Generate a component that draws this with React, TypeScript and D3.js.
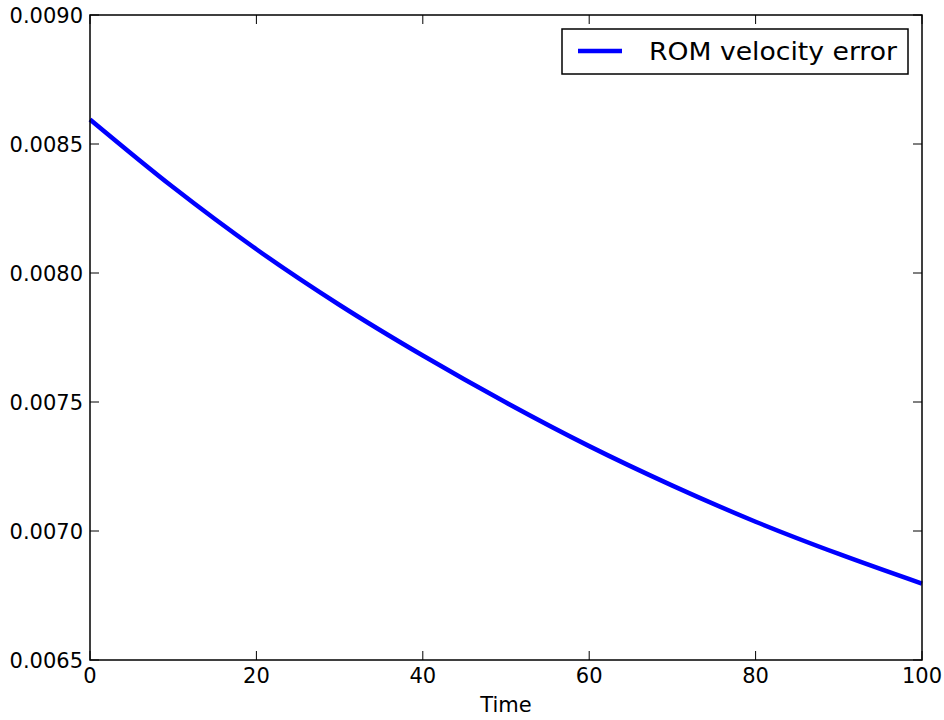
import React, { useEffect, useRef } from "react";
import * as d3 from "d3";

// values
const times = [0, 10, 20, 30, 40, 50, 60, 70, 80, 90, 100];
const velocityError = [
  0.008595, 0.008332, 0.008092, 0.007876, 0.007680, 0.007498, 0.007329,
  0.007176, 0.007036, 0.006911, 0.006796,
];
const xTicks = [0, 20, 40, 60, 80, 100];
const yTicks = [0.0065, 0.007, 0.0075, 0.008, 0.0085, 0.009];
const legendLabel = "ROM velocity error";
const xLabel = "Time";

const App = () => {
  const ref = useRef<SVGSVGElement>(null);

  useEffect(() => {
    const svg = d3.select(ref.current);
    svg.selectAll("*").remove();

    const margin = { top: 15, right: 22, bottom: 60, left: 90 };
    const width = 944 - margin.left - margin.right;
    const height = 720 - margin.top - margin.bottom;
    const font = "DejaVu Sans, sans-serif";

    const x = d3.scaleLinear().domain([0, 100]).range([0, width]);
    const y = d3.scaleLinear().domain([0.0065, 0.009]).range([height, 0]);

    const g = svg
      .append("g")
      .attr("transform", "translate(" + margin.left + "," + margin.top + ")");

    const data = times.map((t, i) => [t, velocityError[i]] as [number, number]);
    const line = d3
      .line<[number, number]>()
      .x((d) => x(d[0]))
      .y((d) => y(d[1]))
      .curve(d3.curveMonotoneX);

    g.append("path")
      .datum(data)
      .attr("d", line)
      .attr("fill", "none")
      .attr("stroke", "#0000ff")
      .attr("stroke-width", 4.5);

    const tickLen = 9;
    // x ticks (bottom and top, pointing inward)
    xTicks.forEach((t) => {
      g.append("line")
        .attr("x1", x(t)).attr("x2", x(t))
        .attr("y1", height).attr("y2", height - tickLen)
        .attr("stroke", "#000");
      g.append("line")
        .attr("x1", x(t)).attr("x2", x(t))
        .attr("y1", 0).attr("y2", tickLen)
        .attr("stroke", "#000");
      g.append("text")
        .attr("x", x(t))
        .attr("y", height + 23)
        .attr("text-anchor", "middle")
        .attr("font-family", font)
        .attr("font-size", 21)
        .text(t);
    });

    yTicks.forEach((v) => {
      g.append("line")
        .attr("x1", 0).attr("x2", tickLen)
        .attr("y1", y(v)).attr("y2", y(v))
        .attr("stroke", "#000");
      g.append("line")
        .attr("x1", width).attr("x2", width - tickLen)
        .attr("y1", y(v)).attr("y2", y(v))
        .attr("stroke", "#000");
      g.append("text")
        .attr("x", -7)
        .attr("y", y(v))
        .attr("dy", "0.36em")
        .attr("text-anchor", "end")
        .attr("font-family", font)
        .attr("font-size", 21)
        .text(d3.format(".4f")(v));
    });

    g.append("rect")
      .attr("width", width)
      .attr("height", height)
      .attr("fill", "none")
      .attr("stroke", "#000")
      .attr("stroke-width", 1.5);

    g.append("text")
      .attr("x", width / 2)
      .attr("y", height + 52)
      .attr("text-anchor", "middle")
      .attr("font-family", font)
      .attr("font-size", 21)
      .text(xLabel);

    // legend
    const lg = g.append("g").attr("transform", "translate(" + (562 - margin.left) + "," + (29 - margin.top) + ")");
    lg.append("rect")
      .attr("width", 346)
      .attr("height", 45)
      .attr("fill", "#fff")
      .attr("stroke", "#000")
      .attr("stroke-width", 1.5);
    lg.append("line")
      .attr("x1", 16).attr("x2", 60)
      .attr("y1", 22).attr("y2", 22)
      .attr("stroke", "#0000ff")
      .attr("stroke-width", 4.5);
    lg.append("text")
      .attr("x", 87)
      .attr("y", 31)
      .attr("font-family", font)
      .attr("font-size", 25)
      .attr("textLength", 248)
      .attr("lengthAdjust", "spacingAndGlyphs")
      .text(legendLabel);
  }, []);

  return <svg ref={ref} width={944} height={720} style={{ display: "block", position: "absolute", left: 0, top: 0 }}></svg>;
};

export default App;
